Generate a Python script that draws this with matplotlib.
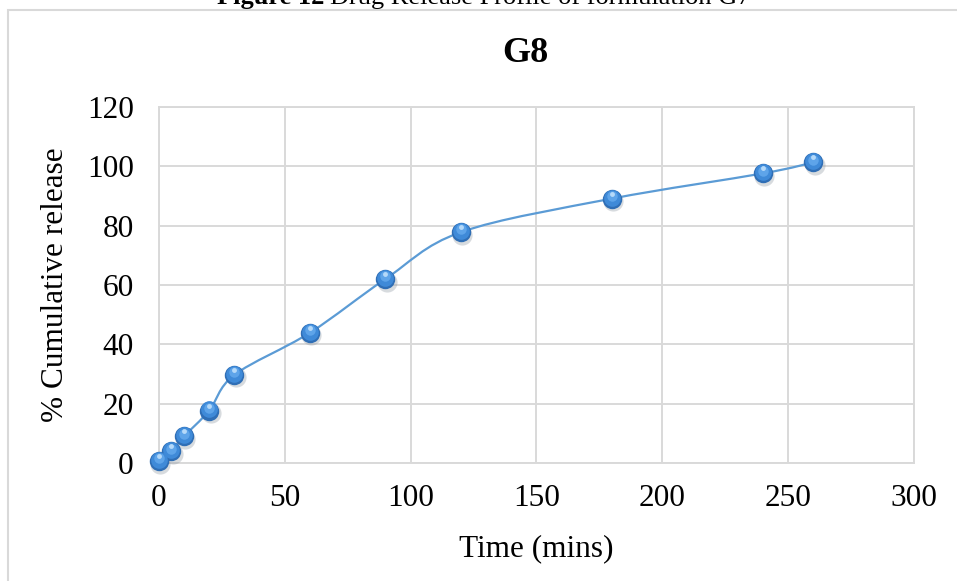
import numpy as np
import matplotlib.pyplot as plt
from matplotlib.path import Path
from matplotlib.patches import PathPatch, Rectangle
from matplotlib.transforms import offset_copy

plt.rcParams['font.family'] = ['Liberation Serif', 'DejaVu Serif']

# Data
time_min = [0, 5, 10, 20, 30, 60, 90, 120, 180, 240, 260]
cum_release = [0.6, 3.9, 9.0, 17.7, 29.7, 43.9, 62.0, 77.8, 89.1, 97.6, 101.3]

x_ticks = [0, 50, 100, 150, 200, 250, 300]
y_ticks = [0, 20, 40, 60, 80, 100, 120]

grid_col = '#D9D9D9'
line_col = '#5B9BD5'


def smooth_path(xs, ys):
    # Excel-style smoothed line: cubic Bezier with Catmull-Rom tangents
    pts = np.column_stack([xs, ys]).astype(float)
    n = len(pts)
    verts = [pts[0]]
    codes = [Path.MOVETO]
    for i in range(n - 1):
        p0 = pts[i - 1] if i > 0 else pts[i]
        p1 = pts[i]
        p2 = pts[i + 1]
        p3 = pts[i + 2] if i + 2 < n else pts[i + 1]
        c1 = p1 + (p2 - p0) / 6
        c2 = p2 - (p3 - p1) / 6
        verts += [c1, c2, p2]
        codes += [Path.CURVE4] * 3
    return Path(verts, codes)


fig = plt.figure(figsize=(9.57, 5.81), dpi=100)
ax = fig.add_axes([0.166, 0.203, 0.789, 0.613])

ax.add_patch(PathPatch(smooth_path(time_min, cum_release), fill=False,
                       edgecolor=line_col, lw=1.6, zorder=3))

# sphere-like markers: shadow, body, sheen, highlight
mk = dict(ls='none', marker='o', mew=0, clip_on=False)
shadow = offset_copy(ax.transData, fig=fig, x=1.0, y=-1.8, units='points')
ax.plot(time_min, cum_release, ms=14.5, color='#8E98A3', alpha=0.35,
        transform=shadow, zorder=4, **mk)
ax.plot(time_min, cum_release, ms=14, color='#2F6EB5', zorder=5, **mk)
body = offset_copy(ax.transData, fig=fig, x=0, y=0.8, units='points')
ax.plot(time_min, cum_release, ms=12, color='#3F8AD8', transform=body,
        zorder=6, **mk)
sheen = offset_copy(ax.transData, fig=fig, x=0, y=2.0, units='points')
ax.plot(time_min, cum_release, ms=7.5, color='#62A8EC', alpha=0.9,
        transform=sheen, zorder=7, **mk)
hi = offset_copy(ax.transData, fig=fig, x=0, y=3.6, units='points')
ax.plot(time_min, cum_release, ms=3.5, color='#BFE0FB', alpha=0.9,
        transform=hi, zorder=8, **mk)

ax.set_xlim(0, 300)
ax.set_ylim(0, 120)
ax.set_xticks(x_ticks)
ax.set_yticks(y_ticks)
ax.tick_params(length=0, labelsize=22.5)
ax.tick_params(axis='x', pad=15)
ax.tick_params(axis='y', pad=18)
ax.grid(True, color=grid_col, lw=1.4)
ax.set_axisbelow(True)
for s in ax.spines.values():
    s.set_color(grid_col)
    s.set_linewidth(1.4)

ax.set_xlabel('Time (mins)', fontsize=22.5, labelpad=15)
ax.set_ylabel('% Cumulative release', fontsize=22.5, labelpad=12)
fig.text(525 / 957, 1 - 54 / 581, 'G8', fontsize=26, fontweight='bold',
         ha='center', va='center')

# chart frame and clipped caption above it
fig.add_artist(Rectangle((8 / 957, -0.05), 1.0, 1 - 10 / 581 + 0.05,
                         transform=fig.transFigure, fill=False,
                         edgecolor=grid_col, lw=1.5))
fig.text(0.3385, 1 - 4 / 581, 'Figure 12', fontsize=19, fontweight='bold',
         ha='right', va='baseline')
fig.text(0.345, 1 - 4 / 581, 'Drug Release Profile of formulation G7',
         fontsize=19, ha='left', va='baseline')

fig.savefig('out.png', dpi=100)
